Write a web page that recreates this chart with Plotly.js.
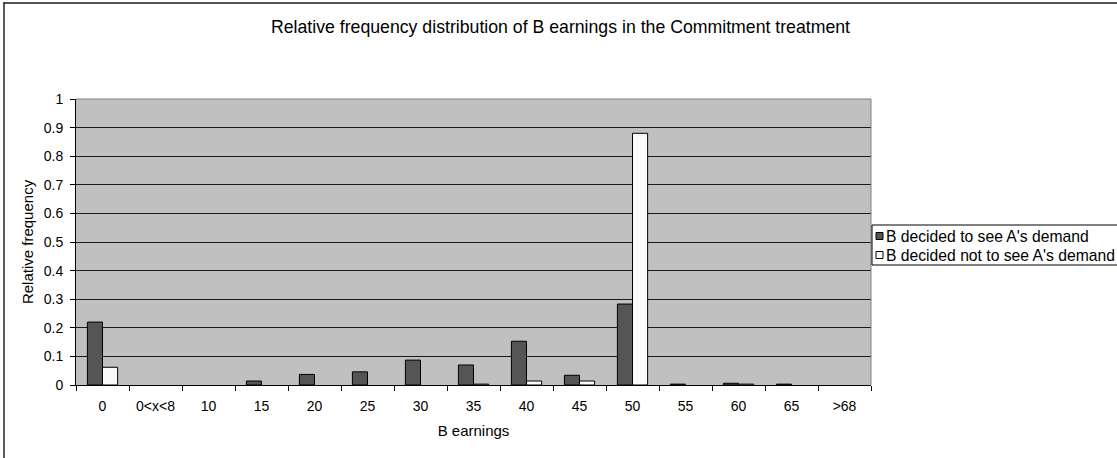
<!DOCTYPE html>
<html>
<head>
<meta charset="utf-8">
<script src="https://cdn.plot.ly/plotly-3.0.1.min.js"></script>
<style>
  html, body { margin: 0; padding: 0; background: #ffffff; }
  #chart { width: 1117px; height: 458px; }
</style>
</head>
<body>
<div id="chart"></div>
<script>
// Earnings bins for player B
const categories = ['0', '0<x<8', '10', '15', '20', '25', '30', '35', '40', '45', '50', '55', '60', '65', '>68'];

// Relative frequencies per bin
const seeDemand    = [0.22, 0, 0, 0.014, 0.037, 0.046, 0.087, 0.070, 0.153, 0.034, 0.283, 0.003, 0.006, 0.003, 0];
const notSeeDemand = [0.062, 0, 0, 0, 0, 0, 0, 0.003, 0.014, 0.014, 0.88, 0, 0.003, 0, 0];

const seriesNames = ["B decided to see A's demand", "B decided not to see A's demand"];
const seriesColors = ['#555555', '#fafafa'];

const W = 1117, H = 458;
const M = { l: 76, r: 246, t: 99, b: 73 };
const plotW = W - M.l - M.r, plotH = H - M.t - M.b;
// pixel -> paper helpers for frame and legend decorations
const px = x => (x - M.l) / plotW;
const py = y => (H - M.b - y) / plotH;

// empty bins get no bar at all (no outline along the axis)
const traces = [seeDemand, notSeeDemand].map((vals, i) => ({
  type: 'bar',
  x: categories,
  y: vals.map(v => (v === 0 ? null : v)),
  name: seriesNames[i],
  marker: { color: seriesColors[i], line: { color: '#000000', width: 1 } },
  showlegend: false,
  hoverinfo: 'x+y'
}));

const family = 'Liberation Sans, Arial, sans-serif';
const f = size => ({ family: family, color: '#000000', size: size });

const shapes = [
  // outer chart frame (top and left edges)
  { type: 'line', xref: 'paper', yref: 'paper', x0: px(4), x1: px(1120), y0: py(3), y1: py(3),
    line: { color: '#555555', width: 2 } },
  { type: 'line', xref: 'paper', yref: 'paper', x0: px(4), x1: px(4), y0: py(2), y1: py(460),
    line: { color: '#222222', width: 1.5 } },
  // plot area border (top and right)
  { type: 'line', xref: 'paper', yref: 'paper', x0: 0, x1: 1, y0: 1, y1: 1,
    line: { color: '#808080', width: 1 }, layer: 'above' },
  { type: 'line', xref: 'paper', yref: 'paper', x0: 1, x1: 1, y0: 0, y1: 1,
    line: { color: '#808080', width: 1 }, layer: 'above' },
  // legend box
  { type: 'rect', xref: 'paper', yref: 'paper', x0: px(872), x1: px(1125), y0: py(225), y1: py(265),
    line: { color: '#000000', width: 1 }, fillcolor: '#ffffff' }
];

const annotations = [];
const legendRows = [236, 255];
seriesNames.forEach((name, i) => {
  const cy = legendRows[i];
  shapes.push({ type: 'rect', xref: 'paper', yref: 'paper',
    x0: px(876), x1: px(883), y0: py(cy - 3.5), y1: py(cy + 3.5),
    line: { color: '#000000', width: 1 }, fillcolor: seriesColors[i] });
  annotations.push({ xref: 'paper', yref: 'paper', x: px(884), y: py(cy),
    xanchor: 'left', yanchor: 'middle', showarrow: false, text: name,
    font: f(15.7) });
});

const layout = {
  width: W, height: H,
  margin: M,
  paper_bgcolor: '#ffffff',
  plot_bgcolor: '#c0c0c0',
  font: f(14),
  title: {
    text: 'Relative frequency distribution of B earnings in the Commitment treatment',
    font: f(17.7),
    x: (270 + 851) / 2 / W, xanchor: 'center',
    y: 1 - 27 / H, yanchor: 'middle', yref: 'container'
  },
  barmode: 'group',
  bargap: 0.43,
  bargroupgap: 0,
  xaxis: {
    type: 'category',
    tickson: 'boundaries',
    ticks: 'outside', ticklen: 5, tickcolor: '#000000',
    ticklabelstandoff: 8,
    showline: true, linecolor: '#000000', linewidth: 1,
    showgrid: false, zeroline: false,
    tickfont: f(14),
    title: { text: 'B earnings', font: f(15), standoff: 12 },
    automargin: false,
    fixedrange: true
  },
  yaxis: {
    range: [0, 1],
    dtick: 0.1,
    ticks: 'outside', ticklen: 5, tickcolor: '#000000',
    ticklabelstandoff: 4,
    showline: true, linecolor: '#000000', linewidth: 1,
    showgrid: true, gridcolor: '#1a1a1a', gridwidth: 1,
    zeroline: false,
    tickfont: f(14),
    title: { text: 'Relative frequency', font: f(15), standoff: 6 },
    automargin: false,
    fixedrange: true
  },
  shapes: shapes,
  annotations: annotations,
  showlegend: false
};

Plotly.newPlot('chart', traces, layout, { staticPlot: true, displayModeBar: false });
</script>
</body>
</html>
